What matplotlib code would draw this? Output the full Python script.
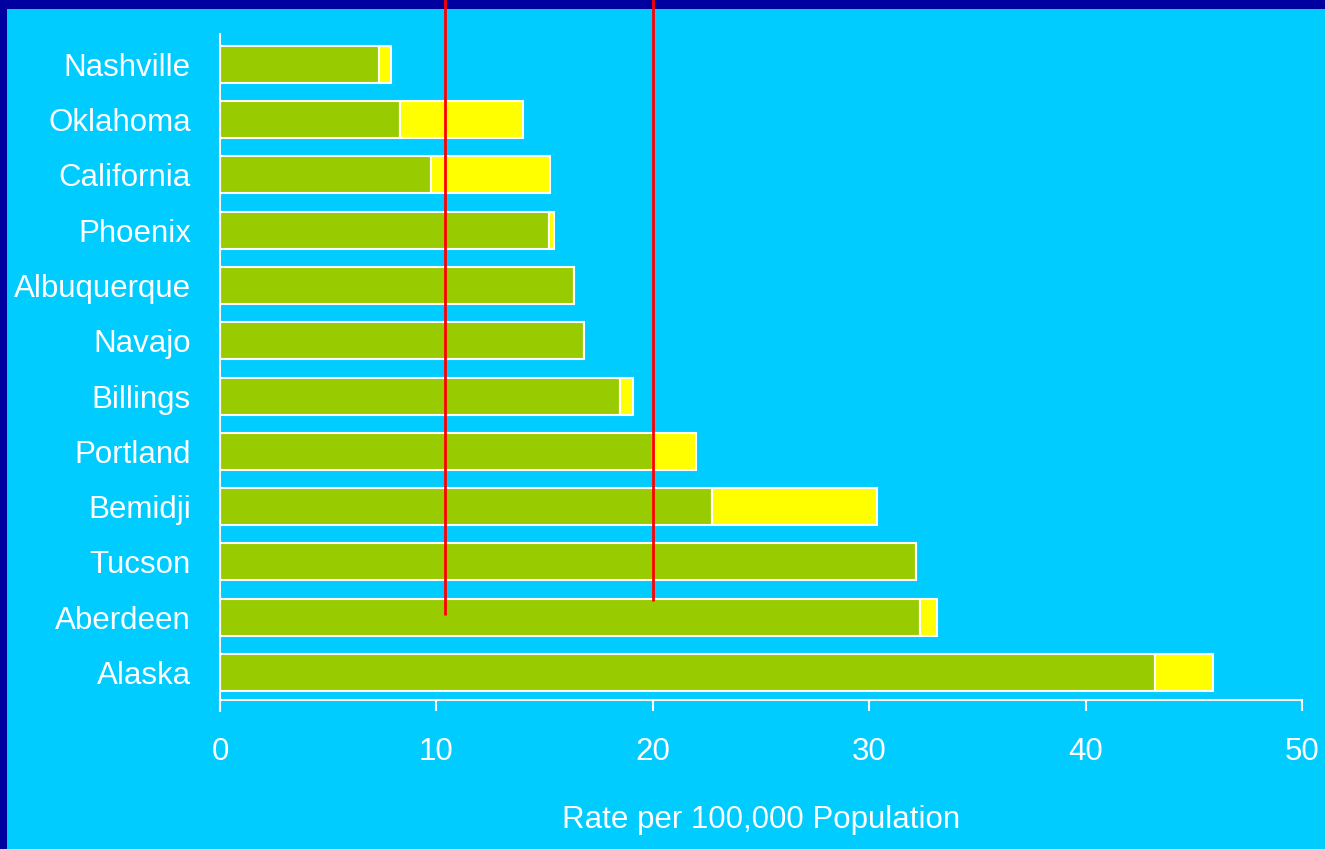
import matplotlib
matplotlib.use("Agg")
import matplotlib.pyplot as plt
from matplotlib.patches import Rectangle

# Regions, listed bottom to top
regions = ["Alaska", "Aberdeen", "Tucson", "Bemidji", "Portland", "Billings",
           "Navajo", "Albuquerque", "Phoenix", "California", "Oklahoma", "Nashville"]
base_rate = [43.22, 32.35, 32.16, 22.72, 20.0, 18.5,
             16.82, 16.36, 15.2, 9.74, 8.32, 7.36]
added_rate = [2.69, 0.78, 0.0, 7.65, 2.01, 0.58,
              0.0, 0.0, 0.23, 5.51, 5.70, 0.53]
reference_rates = [10.4, 20.0]
reference_bottoms = [1.04, 1.29]
x_ticks = [0, 10, 20, 30, 40, 50]

NAVY = "#0000A0"
CYAN = "#00CCFF"
GREEN = "#99CC00"
YELLOW = "#FFFF00"
RED = "#FF0000"

plt.rcParams["font.family"] = ["Liberation Sans", "DejaVu Sans"]

fig = plt.figure(figsize=(13.25, 8.49), dpi=100)
fig.patch.set_facecolor(NAVY)
fig.patches.append(Rectangle((7 / 1325, 0), 1 - 7 / 1325, 1 - 9 / 849,
                             transform=fig.transFigure, facecolor=CYAN,
                             edgecolor="none", zorder=-10))

ax = fig.add_axes([220 / 1325, 149 / 849, 1082 / 1325, 666 / 849])
ax.set_facecolor("none")

ypos = list(range(len(regions)))
ax.barh(ypos, base_rate, height=0.67, color=GREEN, edgecolor="white",
        linewidth=1.5, zorder=2)
ax.barh(ypos, added_rate, left=base_rate, height=0.67, color=YELLOW,
        edgecolor="white", linewidth=1.5, zorder=2)

for xr, yb in zip(reference_rates, reference_bottoms):
    ax.plot([xr, xr], [yb, 12.6], color=RED, linewidth=2.0, clip_on=False,
            zorder=5, solid_capstyle="butt")

ax.set_xlim(0, 50)
ax.set_ylim(-0.5, 11.55)
ax.set_xticks(x_ticks)
ax.set_yticks(ypos)
ax.set_yticklabels(regions)

for side in ("top", "right"):
    ax.spines[side].set_visible(False)
for side in ("left", "bottom"):
    ax.spines[side].set_color("white")
    ax.spines[side].set_linewidth(1.5)
ax.spines["left"].set_bounds(-0.69, 11.55)

ax.tick_params(axis="x", colors="white", labelsize=22.5, length=8, width=1.5,
               pad=19, direction="out")
ax.tick_params(axis="y", colors="white", labelsize=22.5, length=0, pad=21)
for lbl in ax.get_yticklabels():
    lbl.set_y(lbl.get_position()[1])
ax.set_xlabel("Rate per 100,000 Population", color="white", fontsize=22.5,
              labelpad=27)

fig.savefig("out.png", dpi=100, facecolor=fig.get_facecolor())
